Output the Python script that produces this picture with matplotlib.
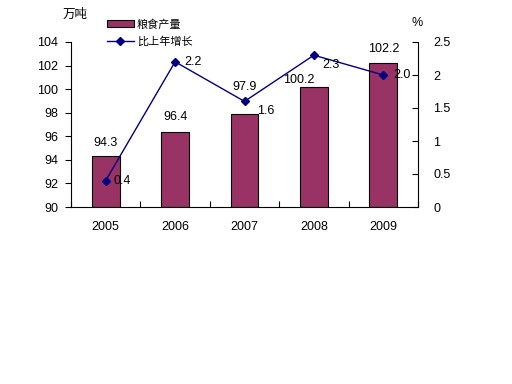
import matplotlib
matplotlib.use("Agg")
import matplotlib.pyplot as plt
import numpy as np

plt.rcParams['font.family'] = ['Liberation Sans', 'Noto Sans CJK SC', 'DejaVu Sans']

years = ['2005', '2006', '2007', '2008', '2009']
grain = [94.3, 96.4, 97.9, 100.2, 102.2]
growth = [0.4, 2.2, 1.6, 2.3, 2.0]
growth_labels = ['0.4', '2.2', '1.6', '2.3', '2.0']

# label offsets in pixels (as laid out in the source chart)
bar_off = [(0, 13), (0, 15), (0, 27), (-15, 7), (0, 14)]
line_off = [(8, 0), (9, 0), (13, -10), (8, -10), (10, 0)]

fig = plt.figure(figsize=(5.12, 3.84), dpi=100)
ax = fig.add_axes([71/512, 1 - 207/384, (418-71)/512, (207-42)/384])
x = np.arange(len(years))

bars = ax.bar(x, np.array(grain) - 90, bottom=90, width=0.4, color='#993366',
              edgecolor='black', linewidth=0.8, label='粮食产量')
ax.set_ylim(90, 104)
ax.set_xlim(-0.5, 4.5)
ax.set_yticks(range(90, 105, 2))
ax.set_xticks(np.arange(-0.5, 5, 1), minor=False)
ax.set_xticklabels([])
ax.set_xticks(x, minor=True)
ax.set_xticklabels(years, minor=True, fontsize=9)
ax.tick_params(axis='x', which='minor', length=0, pad=10)
ax.tick_params(axis='x', which='major', length=4, direction='in')
ax.tick_params(axis='y', length=4, direction='out', pad=5, labelsize=9)
for s in ['top', 'right']:
    ax.spines[s].set_visible(False)
for xi, v, (dx, dy) in zip(x, grain, bar_off):
    ax.annotate(f'{v:.1f}', (xi, v), xytext=(dx, dy), textcoords='offset pixels',
                ha='center', va='center', fontsize=9)

ax2 = ax.twinx()
ln, = ax2.plot(x, growth, color='#000080', marker='D', markersize=4,
               linewidth=1, label='比上年增长')
ax2.set_ylim(0, 2.5)
ax2.set_yticks([0, 0.5, 1, 1.5, 2, 2.5])
ax2.set_yticklabels(['0', '0.5', '1', '1.5', '2', '2.5'])
ax2.tick_params(axis='y', length=4, direction='in', pad=11, labelsize=9)
for s in ['top', 'left', 'bottom']:
    ax2.spines[s].set_visible(False)
for xi, v, lab, (dx, dy) in zip(x, growth, growth_labels, line_off):
    ax2.annotate(lab, (xi, v), xytext=(dx, dy), textcoords='offset pixels',
                 ha='left', va='center', fontsize=9)

fig.text(63/512, 1 - 15/384, '万吨', ha='left', va='center', fontsize=9)
fig.text(411/512, 1 - 23/384, '%', ha='left', va='center', fontsize=9)

fig.legend([bars, ln], ['粮食产量', '比上年增长'], loc='upper left',
           bbox_to_anchor=(107/512, 1 - 19/384), frameon=False, fontsize=8,
           handlelength=2.4, handleheight=0.55, labelspacing=0.6, borderpad=0,
           handletextpad=0.3, borderaxespad=0)

fig.savefig('out.png', dpi=100)
